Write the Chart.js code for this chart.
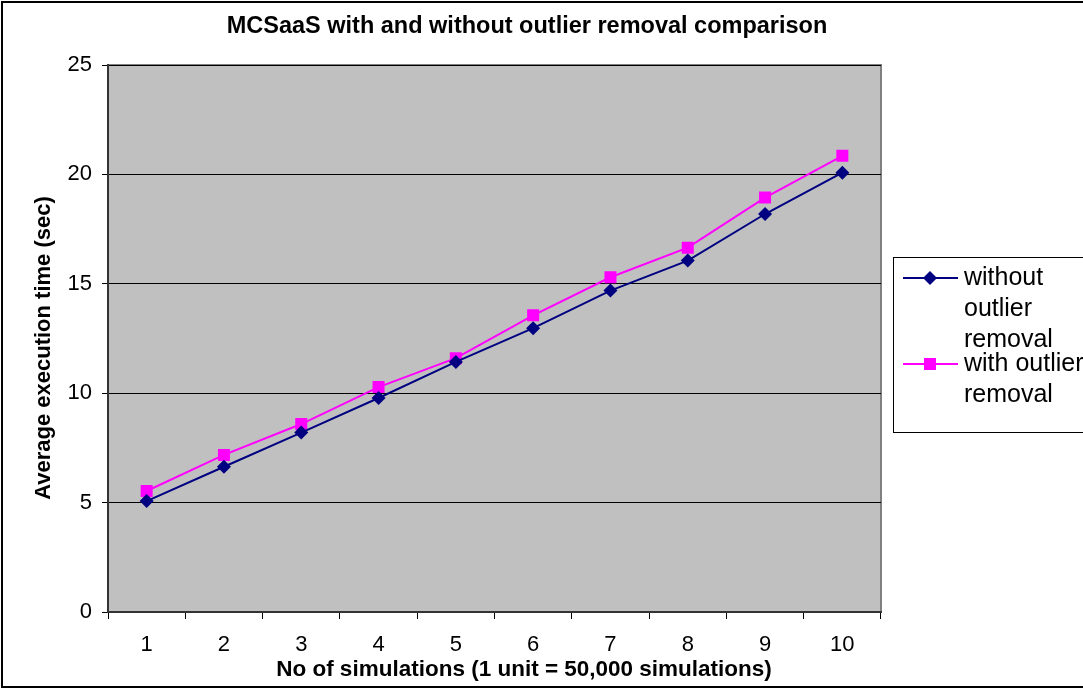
<!DOCTYPE html>
<html>
<head>
<meta charset="utf-8">
<script src="https://cdn.jsdelivr.net/npm/chart.js@4"></script>
<style>
  html, body { margin: 0; padding: 0; background: #fff; }
  #wrap { width: 1083px; height: 688px; }
</style>
</head>
<body>
<div id="wrap"><canvas id="chart" width="1083" height="688"></canvas></div>
<script>
const titleText = 'MCSaaS with and without outlier removal comparison';
const xTitle = 'No of simulations (1 unit = 50,000 simulations)';
const yTitle = 'Average execution time (sec)';
const categories = ['1', '2', '3', '4', '5', '6', '7', '8', '9', '10'];
const withoutRemoval = [5.07, 6.64, 8.2, 9.78, 11.43, 12.97, 14.69, 16.06, 18.19, 20.08];
const withRemoval = [5.53, 7.18, 8.59, 10.28, 11.6, 13.56, 15.3, 16.65, 18.94, 20.85];
const legendLabels = [['without', 'outlier', 'removal'], ['with outlier', 'removal']];
const FONT = "'Liberation Sans', Arial, sans-serif";

// plot background, outer frame, titles and the wrapped legend
const decor = {
    id: 'decor',
    beforeDraw(chart) {
        const { ctx, chartArea: a } = chart;
        ctx.save();
        ctx.fillStyle = '#fff';
        ctx.fillRect(0, 0, chart.width, chart.height);
        ctx.fillStyle = '#c0c0c0';
        ctx.fillRect(a.left, a.top, a.right - a.left, a.bottom - a.top);
        ctx.strokeStyle = '#808080';
        ctx.lineWidth = 2;
        ctx.beginPath();
        ctx.moveTo(a.left, a.top);
        ctx.lineTo(a.right, a.top);
        ctx.lineTo(a.right, a.bottom);
        ctx.stroke();
        ctx.restore();
    },
    afterDraw(chart) {
        const { ctx } = chart;
        ctx.save();
        // outer frame
        ctx.strokeStyle = '#000';
        ctx.lineWidth = 2;
        ctx.strokeRect(2, 2, chart.width + 10, chart.height - 3);
        // titles
        ctx.fillStyle = '#000';
        ctx.textAlign = 'center';
        ctx.textBaseline = 'middle';
        ctx.font = 'bold 23.5px ' + FONT;
        ctx.fillText(titleText, 527, 27);
        ctx.font = 'bold 22.5px ' + FONT;
        ctx.fillText(xTitle, 524, 670);
        ctx.save();
        ctx.translate(44, 348);
        ctx.rotate(-Math.PI / 2);
        ctx.font = 'bold 22px ' + FONT;
        ctx.fillText(yTitle, 0, 0);
        ctx.restore();
        // legend box
        ctx.lineWidth = 1;
        ctx.strokeRect(893.5, 257.5, 200, 175);
        ctx.font = '25px ' + FONT;
        ctx.textAlign = 'left';
        const rows = [278, 364];
        chart.data.datasets.forEach((ds, i) => {
            const y = rows[i];
            ctx.strokeStyle = ds.borderColor;
            ctx.lineWidth = 2;
            ctx.beginPath();
            ctx.moveTo(903, y);
            ctx.lineTo(958, y);
            ctx.stroke();
            ctx.fillStyle = ds.backgroundColor;
            if (i === 0) {
                ctx.beginPath();
                ctx.moveTo(930, y - 7);
                ctx.lineTo(937, y);
                ctx.lineTo(930, y + 7);
                ctx.lineTo(923, y);
                ctx.closePath();
                ctx.fill();
            } else {
                ctx.fillRect(924, y - 6, 12, 12);
            }
            ctx.fillStyle = '#000';
            legendLabels[i].forEach((t, j) => ctx.fillText(t, 964, y + j * 31));
        });
        ctx.restore();
    }
};

new Chart(document.getElementById('chart'), {
    type: 'line',
    data: {
        labels: categories,
        datasets: [{
            label: 'without outlier removal',
            data: withoutRemoval,
            borderColor: '#000080',
            backgroundColor: '#000080',
            borderWidth: 2,
            pointStyle: 'rectRot',
            pointRadius: 7,
            pointHoverRadius: 7,
            pointBorderWidth: 0
        }, {
            label: 'with outlier removal',
            data: withRemoval,
            borderColor: '#ff00ff',
            backgroundColor: '#ff00ff',
            borderWidth: 2,
            pointStyle: 'rect',
            pointRadius: 8.5,
            pointHoverRadius: 8.5,
            pointBorderWidth: 0
        }]
    },
    options: {
        responsive: false,
        animation: false,
        events: [],
        layout: { padding: { top: 65, right: 202, bottom: 0, left: 0 } },
        plugins: { legend: { display: false }, title: { display: false }, tooltip: { enabled: false } },
        scales: {
            x: {
                offset: true,
                afterFit(scale) { scale.height = 76; },
                grid: { offset: true, drawOnChartArea: false, color: '#000', tickLength: 7, tickWidth: 1 },
                border: { color: '#333', width: 2 },
                ticks: { color: '#000', font: { family: FONT, size: 22 }, padding: 13, maxRotation: 0 }
            },
            y: {
                min: 0,
                max: 25,
                afterFit(scale) { scale.width = 108; },
                grid: { color: '#000', lineWidth: 1, tickLength: 6 },
                border: { color: '#333', width: 2 },
                ticks: { stepSize: 5, color: '#000', font: { family: FONT, size: 22 }, padding: 10 }
            }
        }
    },
    plugins: [decor]
});
</script>
</body>
</html>
